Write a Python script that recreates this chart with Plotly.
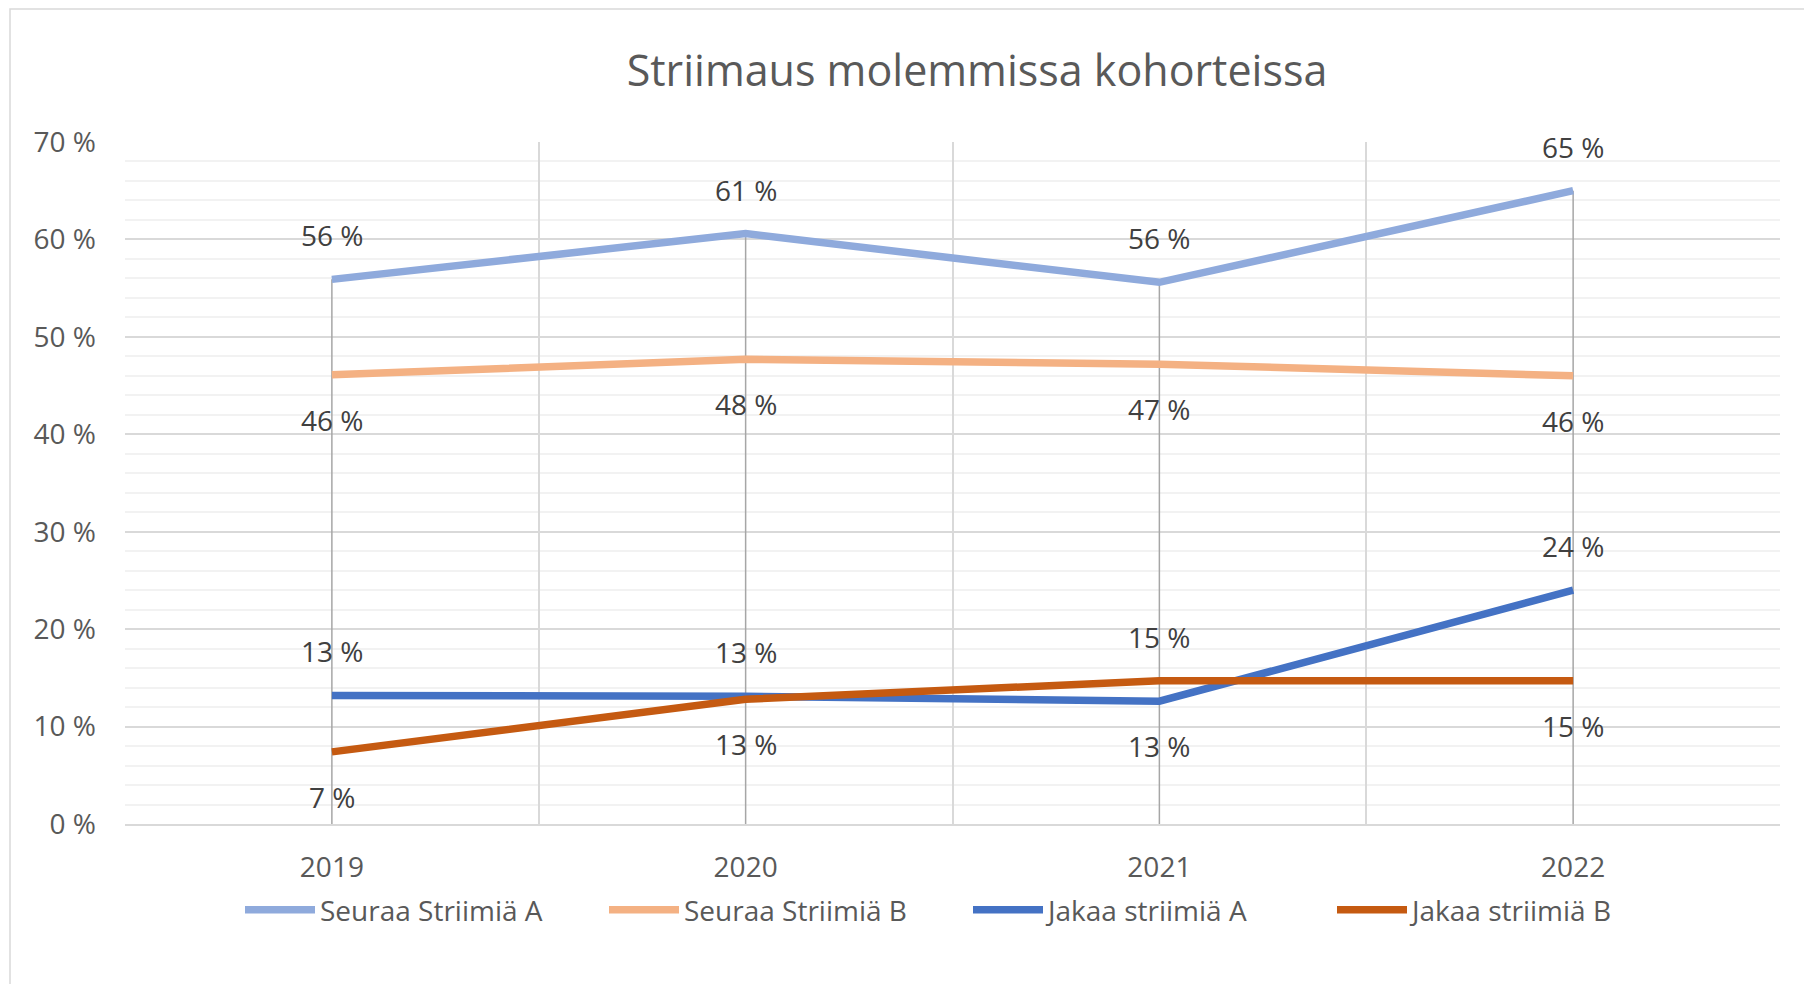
import plotly.graph_objects as go

years = ["2019", "2020", "2021", "2022"]
seuraa_a = [55.9, 60.6, 55.6, 65.0]
seuraa_b = [46.1, 47.7, 47.2, 46.0]
jakaa_a = [13.2, 13.1, 12.6, 24.0]
jakaa_b = [7.4, 12.8, 14.7, 14.7]

names = ["Seuraa Striimiä A", "Seuraa Striimiä B", "Jakaa striimiä A", "Jakaa striimiä B"]
colors = ["#8FAADC", "#F4B183", "#4472C4", "#C55A11"]
series = [seuraa_a, seuraa_b, jakaa_a, jakaa_b]
# label placement per point: 1 = above, -1 = below
label_pos = [
    [1, 1, 1, 1],
    [-1, -1, -1, -1],
    [1, 1, -1, 1],
    [-1, -1, 1, -1],
]

FONT = "Open Sans"
W, H = 1804, 984
L, R, T, B = 125, 24, 142, 160
plot_w = W - L - R
plot_h = H - T - B

fig = go.Figure()

# drop lines: from axis up to highest point of each category
dx, dy = [], []
for i, yr in enumerate(years):
    top = max(s[i] for s in series)
    dx += [yr, yr, None]
    dy += [0, top, None]
fig.add_trace(go.Scatter(x=dx, y=dy, mode="lines", line=dict(color="#A6A6A6", width=1.5),
                         hoverinfo="skip", showlegend=False))

for name, col, vals in zip(names, colors, series):
    fig.add_trace(go.Scatter(x=years, y=vals, mode="lines", name=name,
                             line=dict(color=col, width=7.5)))

for vals, pos in zip(series, label_pos):
    for i, (v, p) in enumerate(zip(vals, pos)):
        fig.add_annotation(x=i, y=v, xref="x", yref="y", text=f"{round(v):d} %",
                           showarrow=False, yshift=44 if p > 0 else -45,
                           font=dict(family=FONT, size=28, color="#404040"))

def px_to_paper_x(px):
    return (px - L) / plot_w

def px_to_paper_y(py):
    return (H - B - py) / plot_h

# outer chart border (top and left edges visible)
fig.add_shape(type="rect", xref="paper", yref="paper",
              x0=px_to_paper_x(10), x1=px_to_paper_x(W + 20),
              y0=px_to_paper_y(H + 20), y1=px_to_paper_y(9),
              line=dict(color="#D9D9D9", width=1.5), fillcolor="rgba(0,0,0,0)")

fig.update_layout(
    width=W, height=H,
    margin=dict(l=L, r=R, t=T, b=B),
    paper_bgcolor="white", plot_bgcolor="white",
    font=dict(family=FONT, size=28, color="#595959"),
    title=dict(text="Striimaus molemmissa kohorteissa", x=977 / W, xanchor="center",
               y=1 - 71 / H, yanchor="middle", yref="container",
               font=dict(family=FONT, size=43, color="#595959")),
    showlegend=True,
    legend=dict(orientation="h", x=px_to_paper_x(968), xanchor="center",
                y=px_to_paper_y(910), yanchor="middle",
                itemwidth=70, entrywidth=279, font=dict(family=FONT, size=28, color="#595959"),
                traceorder="normal"),
    xaxis=dict(type="category", tickson="boundaries", range=[-0.5, 3.5],
               showgrid=True, gridcolor="#D9D9D9", gridwidth=1.5,
               showline=True, linecolor="#D9D9D9", linewidth=2,
               ticks="", ticklabelstandoff=17, fixedrange=True),
    yaxis=dict(range=[0, 70], dtick=10, ticksuffix=" %",
               showgrid=True, gridcolor="#D9D9D9", gridwidth=1.5,
               zeroline=False, showline=False, ticks="", ticklabelstandoff=28,
               minor=dict(dtick=2, showgrid=True, gridcolor="#F2F2F2", gridwidth=1.5)),
)

fig.write_html("out.html", config={"displayModeBar": False},
               post_script="document.body.style.margin='0';document.body.style.overflow='hidden';")
